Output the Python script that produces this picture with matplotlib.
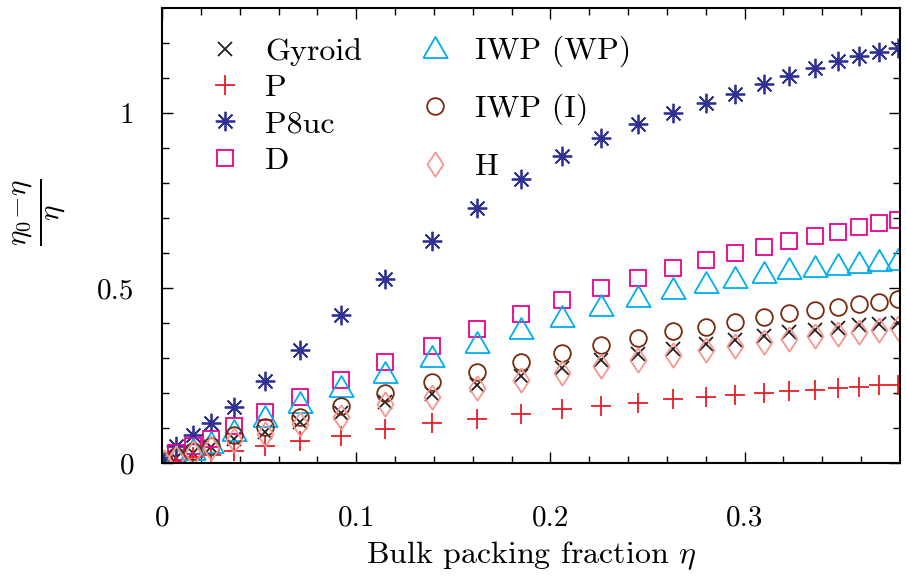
import numpy as np
import matplotlib
matplotlib.use('Agg')
from matplotlib import pyplot as plt

plt.rcParams['font.family'] = ['cmr10', 'DejaVu Serif']
plt.rcParams['mathtext.fontset'] = 'cm'
plt.rcParams['axes.formatter.use_mathtext'] = True

eta = [0.001, 0.007, 0.016, 0.025, 0.037, 0.053, 0.071, 0.092, 0.115, 0.139,
       0.162, 0.185, 0.206, 0.226, 0.245, 0.263, 0.280, 0.295, 0.310, 0.323,
       0.336, 0.348, 0.359, 0.369, 0.379]

gyroid = [0.003, 0.015, 0.030, 0.045, 0.070, 0.088, 0.117, 0.142, 0.173, 0.196,
          0.224, 0.248, 0.272, 0.293, 0.312, 0.327, 0.341, 0.352, 0.364, 0.374,
          0.381, 0.386, 0.393, 0.398, 0.401]
p = [0.000, 0.008, 0.016, 0.024, 0.034, 0.048, 0.062, 0.077, 0.096, 0.113,
     0.127, 0.141, 0.153, 0.163, 0.172, 0.182, 0.188, 0.194, 0.201, 0.205,
     0.210, 0.215, 0.218, 0.222, 0.224]
p8uc = [0.010, 0.050, 0.080, 0.113, 0.160, 0.233, 0.324, 0.423, 0.526, 0.634,
        0.730, 0.812, 0.878, 0.929, 0.969, 1.000, 1.028, 1.054, 1.082, 1.105,
        1.128, 1.148, 1.162, 1.173, 1.185]
d = [0.005, 0.030, 0.050, 0.070, 0.105, 0.145, 0.190, 0.236, 0.290, 0.335,
     0.384, 0.426, 0.466, 0.500, 0.528, 0.557, 0.580, 0.599, 0.616, 0.634,
     0.648, 0.659, 0.673, 0.685, 0.693]
iwp_wp = [0.005, 0.020, 0.040, 0.060, 0.094, 0.134, 0.173, 0.219, 0.261, 0.305,
          0.347, 0.386, 0.421, 0.452, 0.478, 0.501, 0.518, 0.532, 0.545, 0.556,
          0.562, 0.568, 0.575, 0.580, 0.584]
iwp_i = [0.005, 0.020, 0.035, 0.050, 0.080, 0.102, 0.131, 0.162, 0.199, 0.231,
         0.261, 0.289, 0.315, 0.336, 0.357, 0.376, 0.390, 0.404, 0.417, 0.428,
         0.437, 0.447, 0.454, 0.461, 0.469]
h = [0.003, 0.014, 0.028, 0.042, 0.066, 0.083, 0.112, 0.131, 0.168, 0.190,
     0.215, 0.237, 0.256, 0.277, 0.293, 0.310, 0.324, 0.333, 0.346, 0.355,
     0.362, 0.368, 0.374, 0.381, 0.387]

xticks = [0, 0.1, 0.2, 0.3]
xticklabels = ['0', '0.1', '0.2', '0.3']
yticks = [0, 0.5, 1]
yticklabels = ['0', '0.5', '1']

# closed outlines for the triangle and the diamond
tri = [(-1, -0.866), (1, -0.866), (0, 0.866), (-1, -0.866)]
dia = [(0, 1), (0.66, 0), (0, -1), (-0.66, 0), (0, 1)]

styles = [
    ('Gyroid', gyroid, dict(marker='x', ms=9.5, color='#231f20')),
    ('P', p, dict(marker='+', ms=14, color='#ed1c24')),
    ('P8uc', p8uc, dict(marker=(8, 2, 0), ms=14, color='#2e3192')),
    ('D', d, dict(marker='s', ms=11.5, color='#ec008c')),
    ('IWP (WP)', iwp_wp, dict(marker=tri, ms=17.5, color='#00aeef')),
    ('IWP (I)', iwp_i, dict(marker='o', ms=12, color='#7a2a0c')),
    ('H', h, dict(marker=dia, ms=17.5, color='#f4978e')),
]

fig = plt.figure(figsize=[9.06, 5.79], dpi=100)
ax = fig.add_axes([162/906, 1-463/579, 738/906, 455/579])

handles = []
for name, vals, st in styles:
    ln, = ax.plot(eta, vals, linestyle='none', marker=st['marker'], ms=st['ms'],
                  mfc='none', mec=st['color'], mew=1.3, label=name)
    handles.append(ln)

ax.set_xlim(0, 0.38)
ax.set_ylim(0, 1.3)
ax.set_xticks(xticks)
ax.set_xticklabels(xticklabels)
ax.set_yticks(yticks)
ax.set_yticklabels(yticklabels)
ax.set_xticks(np.arange(0, 0.38, 0.02), minor=True)
ax.set_yticks(np.arange(0, 1.3, 0.1), minor=True)
ax.tick_params(which='both', direction='in', top=True, right=True, width=1.0, labelsize=21)
ax.tick_params(which='major', length=8)
ax.tick_params(which='minor', length=5)
ax.tick_params(axis='x', which='major', pad=30)
ax.tick_params(axis='y', which='major', pad=20)
for s in ax.spines.values():
    s.set_linewidth(1.5)

ax.set_xlabel(r'Bulk packing fraction $\eta$', fontsize=23, labelpad=6)
fig.text(40/906, 1-212/579, r'$\frac{\eta_0\!-\!\eta}{\eta}$', fontsize=30,
         rotation=90, ha='center', va='center')

leg1 = ax.legend(handles=handles[:4], loc='upper left', bbox_to_anchor=(0.055, 0.935),
                 frameon=False, fontsize=23, handlelength=1.4, handletextpad=0.55,
                 labelspacing=0.25, borderpad=0, borderaxespad=0)
ax.add_artist(leg1)
ax.legend(handles=handles[4:], loc='upper left', bbox_to_anchor=(0.34, 0.94),
          frameon=False, fontsize=23, handlelength=1.4, handletextpad=0.55,
          labelspacing=0.85, borderpad=0, borderaxespad=0)

plt.savefig('out.png', dpi=100)
plt.close()
